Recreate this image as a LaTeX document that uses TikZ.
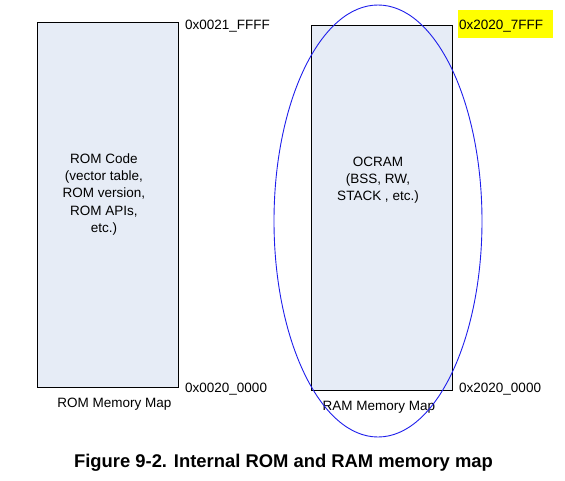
\documentclass[tikz,border=0pt]{standalone}
\usepackage{fontspec}
\setmainfont{Liberation Sans}
\usetikzlibrary{shapes.geometric}
\definecolor{memfill}{RGB}{230,236,246}
\definecolor{ringblue}{RGB}{30,30,235}
\definecolor{hiyellow}{RGB}{255,255,0}
\begin{document}
\begin{tikzpicture}[x=1pt,y=-1pt,
  membox/.style={draw=black, line width=1pt, fill=memfill, inner sep=0pt, anchor=north west},
  lbl/.style={font=\fontsize{13.5}{17.3}\selectfont, inner sep=0pt, text=black},
  inner/.style={lbl, align=center, anchor=north},
  caption/.style={font=\fontsize{18.4}{22}\selectfont\bfseries, inner sep=0pt, anchor=base}]
\useasboundingbox (0,0) rectangle (565,480);
% memory blocks
\node[membox, minimum width=141pt, minimum height=365pt] (rom) at (37,22) {};
\node[membox, minimum width=141pt, minimum height=365pt] (ram) at (311,25) {};
% highlight
\fill[hiyellow] (458,10) rectangle (553,38);
% address labels
\node[lbl, anchor=base west] (romtop) at (185,29) {0x0021\_FFFF};
\node[lbl, anchor=base west] (rombot) at (185,392) {0x0020\_0000};
\node[lbl, anchor=base west] (ramtop) at (459,29) {0x2020\_7FFF};
\node[lbl, anchor=base west] (rambot) at (459,392) {0x2020\_0000};
% map titles
\node[lbl, anchor=base] (romtitle) at (114.5,407) {ROM Memory Map};
\node[lbl, anchor=base] (ramtitle) at (379,410) {RAM Memory Map};
% inner texts
\node[inner] (romtext) at (104,153.3) {ROM Code\\(vector table,\\ROM version,\\ROM APIs,\\etc.)};
\node[inner] (ramtext) at (378,156.5) {OCRAM\\(BSS, RW,\\STACK , etc.)};
% ellipse
\node[draw=ringblue, line width=0.9pt, ellipse, minimum width=208pt, minimum height=432pt, inner sep=0pt] (ring) at (378,221) {};
% caption
\node[caption] (cap) at (283.5,467) {Figure 9-2. Internal ROM and RAM memory map};
\end{tikzpicture}
\end{document}
